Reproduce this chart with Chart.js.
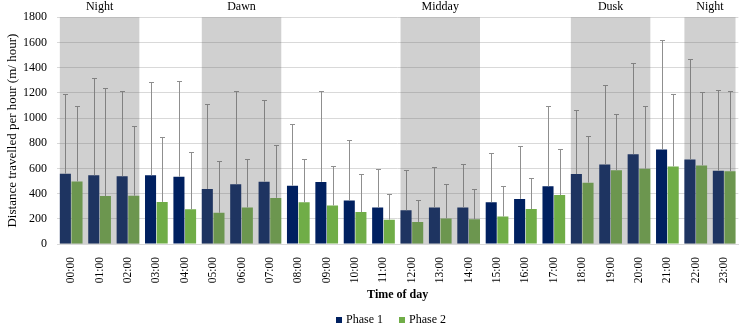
<!DOCTYPE html>
<html lang="en">
<head>
  <meta charset="UTF-8">
  <title>Distance travelled per hour</title>
  <script src="https://cdn.jsdelivr.net/npm/chart.js"></script>
  <style>
    html, body { margin: 0; padding: 0; background: #fff; }
    #wrap { width: 743px; height: 326px; }
  </style>
</head>
<body>
  <div id="wrap"><canvas id="chart" width="743" height="326"></canvas></div>

  <script>
    const hours = ['00:00','01:00','02:00','03:00','04:00','05:00','06:00','07:00','08:00','09:00','10:00','11:00',
                   '12:00','13:00','14:00','15:00','16:00','17:00','18:00','19:00','20:00','21:00','22:00','23:00'];

    const phase1 = [558, 545, 538, 545, 534, 437, 475, 495, 463, 493, 345, 290,
                    268, 290, 290, 332, 358, 458, 555, 631, 713, 750, 671, 582];
    const phase2 = [497, 380, 383, 334, 275, 248, 290, 366, 331, 306, 253, 193,
                    175, 203, 196, 218, 277, 389, 487, 585, 597, 616, 624, 577];

    // upper end of error bars
    const phase1Upper = [1190, 1316, 1213, 1284, 1297, 1113, 1218, 1142, 955, 1218, 826, 594,
                         589, 613, 637, 724, 776, 1095, 1065, 1262, 1434, 1623, 1472, 1226];
    const phase2Upper = [1095, 1237, 937, 850, 734, 655, 676, 787, 673, 621, 553, 397,
                         353, 474, 440, 460, 526, 755, 858, 1028, 1095, 1190, 1207, 1213];

    const yTicks = [0, 200, 400, 600, 800, 1000, 1200, 1400, 1600, 1800];

    // shaded periods: first and last hour index
    const periods = [
      { label: 'Night',  from: 0,  to: 2 },
      { label: 'Dawn',   from: 5,  to: 7 },
      { label: 'Midday', from: 12, to: 14 },
      { label: 'Dusk',   from: 18, to: 20 },
      { label: 'Night',  from: 22, to: 23 }
    ];

    const serif = "'Liberation Serif', 'Times New Roman', serif";

    const periodPlugin = {
      id: 'periods',
      afterDatasetsDraw(chart) {
        const ctx = chart.ctx;
        const area = chart.chartArea;
        const y = chart.scales.y;
        const m1 = chart.getDatasetMeta(0);
        const m2 = chart.getDatasetMeta(1);

        // error bars
        ctx.save();
        ctx.strokeStyle = '#8f8f8f';
        ctx.lineWidth = 1;
        [[m1, phase1, phase1Upper], [m2, phase2, phase2Upper]].forEach(([meta, vals, ups]) => {
          meta.data.forEach((bar, i) => {
            const x = Math.round(bar.x) + 0.5;
            const y0 = y.getPixelForValue(vals[i]);
            const y1 = Math.round(y.getPixelForValue(ups[i])) + 0.5;
            ctx.beginPath();
            ctx.moveTo(x, y0);
            ctx.lineTo(x, y1);
            ctx.moveTo(x - 2.5, y1);
            ctx.lineTo(x + 2.5, y1);
            ctx.stroke();
          });
        });
        ctx.restore();

        // translucent shading over the periods
        ctx.save();
        ctx.fillStyle = 'rgba(100, 100, 100, 0.3)';
        periods.forEach(p => {
          const b0 = m1.data[p.from];
          const b1 = m2.data[p.to];
          const x0 = b0.x - b0.width / 2;
          const x1 = b1.x + b1.width / 2;
          ctx.fillRect(x0, area.top, x1 - x0, area.bottom - area.top);
        });
        ctx.fillStyle = '#000';
        ctx.font = '12px ' + serif;
        ctx.textAlign = 'center';
        ctx.textBaseline = 'middle';
        periods.forEach(p => {
          const b0 = m1.data[p.from];
          const b1 = m2.data[p.to];
          const cx = ((b0.x - b0.width / 2) + (b1.x + b1.width / 2)) / 2;
          ctx.fillText(p.label, cx, 7);
        });
        ctx.restore();
      },
      afterDraw(chart) {
        // legend at the bottom
        const ctx = chart.ctx;
        const items = chart.data.datasets.map(d => ({ text: d.label, color: d.backgroundColor }));
        ctx.save();
        ctx.font = '12px ' + serif;
        ctx.textBaseline = 'middle';
        ctx.textAlign = 'left';
        const box = 6, gap = 4, spacing = 16;
        const widths = items.map(it => box + gap + ctx.measureText(it.text).width);
        const total = widths.reduce((a, b) => a + b, 0) + spacing * (items.length - 1);
        let x = 391 - total / 2;
        const yc = 320;
        items.forEach((it, i) => {
          ctx.fillStyle = it.color;
          ctx.fillRect(x, yc - box / 2, box, box);
          ctx.fillStyle = '#000';
          ctx.fillText(it.text, x + box + gap, yc);
          x += widths[i] + spacing;
        });
        ctx.restore();
      }
    };

    new Chart(document.getElementById('chart'), {
      type: 'bar',
      data: {
        labels: hours,
        datasets: [
          { label: 'Phase 1', data: phase1, backgroundColor: '#002060', categoryPercentage: 0.82, barPercentage: 0.95 },
          { label: 'Phase 2', data: phase2, backgroundColor: '#70ad47', categoryPercentage: 0.82, barPercentage: 0.95 }
        ]
      },
      options: {
        responsive: false,
        animation: false,
        layout: { padding: { top: 16, right: 2, left: 5, bottom: 24 } },
        plugins: {
          tooltip: { enabled: false },
          legend: { display: false }
        },
        scales: {
          x: {
            grid: { display: false },
            border: { display: true, color: '#d9d9d9' },
            ticks: {
              minRotation: 90,
              maxRotation: 90,
              padding: 5,
              color: '#000',
              font: { family: serif, size: 11.5 }
            },
            title: {
              display: true,
              text: 'Time of day',
              color: '#000',
              font: { family: serif, size: 12, weight: 'bold' },
              padding: { top: 8, bottom: 0 }
            },
            afterFit(scale) { scale.height = 58; }
          },
          y: {
            min: 0,
            max: 1800,
            afterBuildTicks(scale) { scale.ticks = yTicks.map(v => ({ value: v })); },
            grid: { color: '#d9d9d9', drawTicks: false },
            border: { display: false },
            ticks: {
              padding: 10,
              color: '#000',
              font: { family: serif, size: 12 },
              callback: v => String(v)
            },
            title: {
              display: true,
              text: 'Distance travelled per hour (m/ hour)',
              color: '#000',
              font: { family: serif, size: 13 },
              padding: { top: 0, bottom: 0 }
            },
            afterFit(scale) { scale.width = 52; }
          }
        }
      },
      plugins: [periodPlugin]
    });
  </script>
</body>
</html>
